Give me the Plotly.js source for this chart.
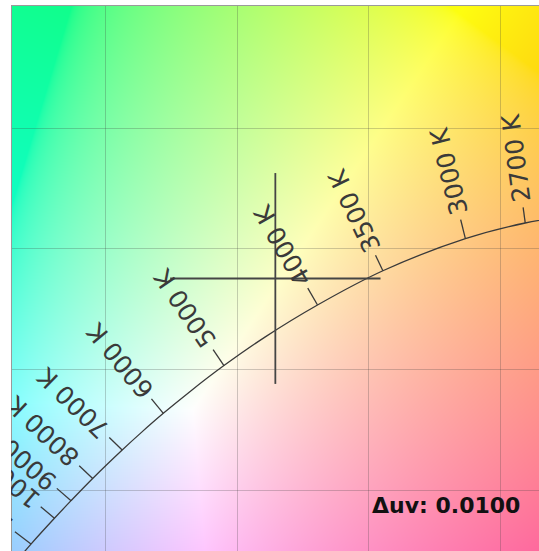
<!DOCTYPE html>
<html>
<head>
<meta charset="utf-8">
<script src="https://cdn.plot.ly/plotly-3.0.1.min.js"></script>
<style>
  html, body { margin:0; padding:0; background:#fff; overflow:hidden; width:539px; height:551px; }
  #chart { position:absolute; left:11px; top:5px; width:528px; height:546px; overflow:hidden; }
</style>
</head>
<body>
<div id="chart"></div>
<script>
// ---- data (CIE 1931 xy) ----
const locusT = [2500, 2700, 3000, 3500, 4000, 4500, 5000, 5500, 6000, 6500, 7000, 8000, 9000, 10000, 12000, 15000];
const locusX = [0.4765, 0.4593, 0.4366, 0.4053, 0.3805, 0.3607, 0.3450, 0.3323, 0.3220, 0.3135, 0.3064, 0.2952, 0.2870, 0.2807, 0.2718, 0.2637];
const locusY = [0.4137, 0.4107, 0.4042, 0.3909, 0.3767, 0.3635, 0.3516, 0.3410, 0.3318, 0.3237, 0.3166, 0.3048, 0.2956, 0.2883, 0.2776, 0.2672];

const tickT    = [2700, 3000, 3500, 4000, 5000, 6000, 7000, 8000, 9000, 10000, 12000];
const tickEndX = [0.4585, 0.4348, 0.4025, 0.3768, 0.3409, 0.3175, 0.3015, 0.2901, 0.2816, 0.2755, 0.2657];
const tickEndY = [0.4172, 0.4121, 0.3973, 0.3837, 0.3582, 0.3378, 0.3218, 0.3101, 0.3007, 0.2931, 0.2827];
const tickLabels = tickT.map(t => t + ' K');

const crossX = [0.3645];
const crossY = [0.3877];
const crossHalfX = [0.0399];
const crossHalfY = [0.0437];

const gridX = [0.30, 0.35, 0.40, 0.45];
const gridY = [0.30, 0.35, 0.40, 0.45];
const duvText = 'Δuv: 0.0100';

// ---- view ----
const xRange = [0.2646, 0.46452];
const yRange = [0.27474, 0.50064];
const PW = 527, PH = 545;   // plot area size in px
const ML = 1, MT = 1;

// ---- chromaticity background ----
function xyToRGB(x, y) {
  // equal-energy white shown as neutral
  const X = 0.9505 * x / y, Y = 1, Z = 1.089 * (1 - x - y) / y;
  let r = 3.2406 * X - 1.5372 * Y - 0.4986 * Z;
  let g = -0.9689 * X + 1.8758 * Y + 0.0415 * Z;
  let b = 0.0557 * X - 0.2040 * Y + 1.0570 * Z;
  r = Math.max(r, 0); g = Math.max(g, 0); b = Math.max(b, 0);
  const m = Math.max(r, g, b) || 1;
  const enc = v => { v = v / m; return v <= 0.0031308 ? 12.92 * v : 1.055 * Math.pow(v, 1 / 2.4) - 0.055; };
  const mix = 0.07, grey = 235;
  return [enc(r), enc(g), enc(b)].map(v => (1 - mix) * v * 255 + mix * grey);
}
function makeBackground() {
  const W = PW, H = PH;
  const c = document.createElement('canvas');
  c.width = W; c.height = H;
  const ctx = c.getContext('2d');
  const img = ctx.createImageData(W, H);
  for (let j = 0; j < H; j++) {
    const y = yRange[1] - (j + 0.5) / H * (yRange[1] - yRange[0]);
    for (let i = 0; i < W; i++) {
      const x = xRange[0] + (i + 0.5) / W * (xRange[1] - xRange[0]);
      const [r, g, b] = xyToRGB(x, y);
      const k = 4 * (j * W + i);
      img.data[k] = r; img.data[k + 1] = g; img.data[k + 2] = b; img.data[k + 3] = 255;
    }
  }
  ctx.putImageData(img, 0, 0);
  return c.toDataURL('image/png');
}

// ---- traces ----
const locusTrace = {
  x: locusX, y: locusY, mode: 'lines', type: 'scatter',
  line: { color: '#3a3a3a', width: 1.3, shape: 'spline' }, hoverinfo: 'skip'
};
const tx = [], ty = [];
tickT.forEach((t, i) => {
  const k = locusT.indexOf(t);
  tx.push(locusX[k], tickEndX[i], null);
  ty.push(locusY[k], tickEndY[i], null);
});
const tickTrace = { x: tx, y: ty, mode: 'lines', type: 'scatter',
  line: { color: '#3a3a3a', width: 1.3 }, hoverinfo: 'skip' };

const cx = [], cy = [];
crossX.forEach((x0, i) => {
  const y0 = crossY[i];
  cx.push(x0 - crossHalfX[i], x0 + crossHalfX[i], null, x0, x0, null);
  cy.push(y0, y0, null, y0 - crossHalfY[i], y0 + crossHalfY[i], null);
});
const crossTrace = { x: cx, y: cy, mode: 'lines', type: 'scatter',
  line: { color: '#454545', width: 1.8 }, hoverinfo: 'skip' };

// ---- label annotations ----
const pxX = PW / (xRange[1] - xRange[0]);
const pxY = PH / (yRange[1] - yRange[0]);
const FONT = { family: 'DejaVu Sans', size: 25, color: '#3a3a3a' };
const mctx = document.createElement('canvas').getContext('2d');
mctx.font = FONT.size + 'px "DejaVu Sans"';
const GAP = 6;
const annotations = tickT.map((t, i) => {
  const k = locusT.indexOf(t);
  const bx = (locusX[k] - xRange[0]) * pxX, by = (yRange[1] - locusY[k]) * pxY;
  const ex = (tickEndX[i] - xRange[0]) * pxX, ey = (yRange[1] - tickEndY[i]) * pxY;
  const dx = ex - bx, dy = ey - by, len = Math.hypot(dx, dy);
  const ux = dx / len, uy = dy / len;
  const L = mctx.measureText(tickLabels[i]).width;
  const px = ex + ux * (GAP + L / 2), py = ey + uy * (GAP + L / 2);
  return {
    xref: 'paper', yref: 'paper', x: px / PW, y: 1 - py / PH,
    text: tickLabels[i], showarrow: false, textangle: Math.atan2(dy, dx) * 180 / Math.PI,
    xanchor: 'center', yanchor: 'middle', font: FONT
  };
});
annotations.push({
  xref: 'paper', yref: 'paper', x: (370 - 12) / PW, y: 1 - (505 - 6) / PH,
  text: duvText, showarrow: false, xanchor: 'left', yanchor: 'middle',
  font: { family: 'DejaVu Sans', size: 22, color: '#111111', weight: 'bold' }
});

const layout = {
  width: ML + PW, height: MT + PH,
  margin: { l: ML, t: MT, r: 0, b: 0, pad: 0 },
  paper_bgcolor: '#ffffff', plot_bgcolor: '#ffffff',
  showlegend: false,
  xaxis: { range: xRange, side: 'top', showline: true, linecolor: '#9a9a9a', linewidth: 1,
    mirror: false, tickvals: gridX, showticklabels: false, ticks: '', zeroline: false,
    showgrid: true, gridcolor: 'rgba(60,60,60,0.25)', gridwidth: 1, fixedrange: true },
  yaxis: { range: yRange, showline: true, linecolor: '#9a9a9a', linewidth: 1,
    mirror: false, tickvals: gridY, showticklabels: false, ticks: '', zeroline: false,
    showgrid: true, gridcolor: 'rgba(60,60,60,0.25)', gridwidth: 1, fixedrange: true },
  images: [{ source: makeBackground(), xref: 'x', yref: 'y', x: xRange[0], y: yRange[1],
    sizex: xRange[1] - xRange[0], sizey: yRange[1] - yRange[0], sizing: 'stretch',
    xanchor: 'left', yanchor: 'top', layer: 'below' }],
  annotations: annotations
};

Plotly.newPlot('chart', [locusTrace, tickTrace, crossTrace], layout,
  { staticPlot: true, displayModeBar: false });
</script>
</body>
</html>
